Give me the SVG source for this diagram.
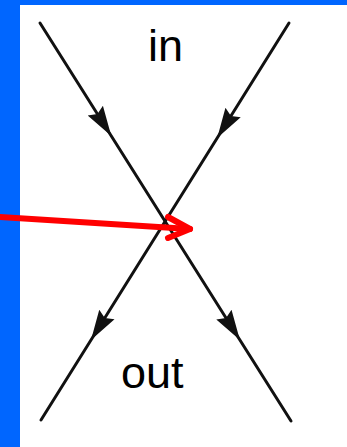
<svg xmlns="http://www.w3.org/2000/svg" width="347" height="447" viewBox="0 0 347 447">
  <style>
    .line { fill: none; stroke: #111; stroke-width: 3; stroke-linecap: round; }
    .lbl { font-family: "Liberation Sans", Arial, sans-serif; font-size: 45px; fill: #000; }
    .red { fill: none; stroke: #FF0000; stroke-width: 6; stroke-linecap: round; stroke-linejoin: round; }
  </style>
  <defs>
    <marker id="ah" viewBox="0 0 30 22" refX="30" refY="11" markerWidth="30" markerHeight="22" markerUnits="userSpaceOnUse" orient="auto">
      <path d="M0,2 L30,11 L0,20 L4,11 Z" fill="#111"/>
    </marker>
  </defs>
  <rect x="0" y="0" width="347" height="447" fill="#FFFFFF"/>
  <rect x="0" y="0" width="347" height="5" fill="#0066FF"/>
  <rect x="0" y="0" width="20" height="447" fill="#0066FF"/>
  <g id="connectors">
    <path id="line1" class="line" d="M40,23 L111.3,136 L239.9,340 L291,421" marker-mid="url(#ah)"/>
    <path id="line2" class="line" d="M289,23 L217.2,138 L91,340 L41,420" marker-mid="url(#ah)"/>
    <g id="pointer">
      <path class="red" d="M0,217 L190,229"/>
      <path class="red" d="M168,217 L190,229 L168,238"/>
    </g>
  </g>
  <g id="label-in"><text class="lbl" x="148" y="61">in</text></g>
  <g id="label-out"><text class="lbl" x="121" y="388">out</text></g>
</svg>
